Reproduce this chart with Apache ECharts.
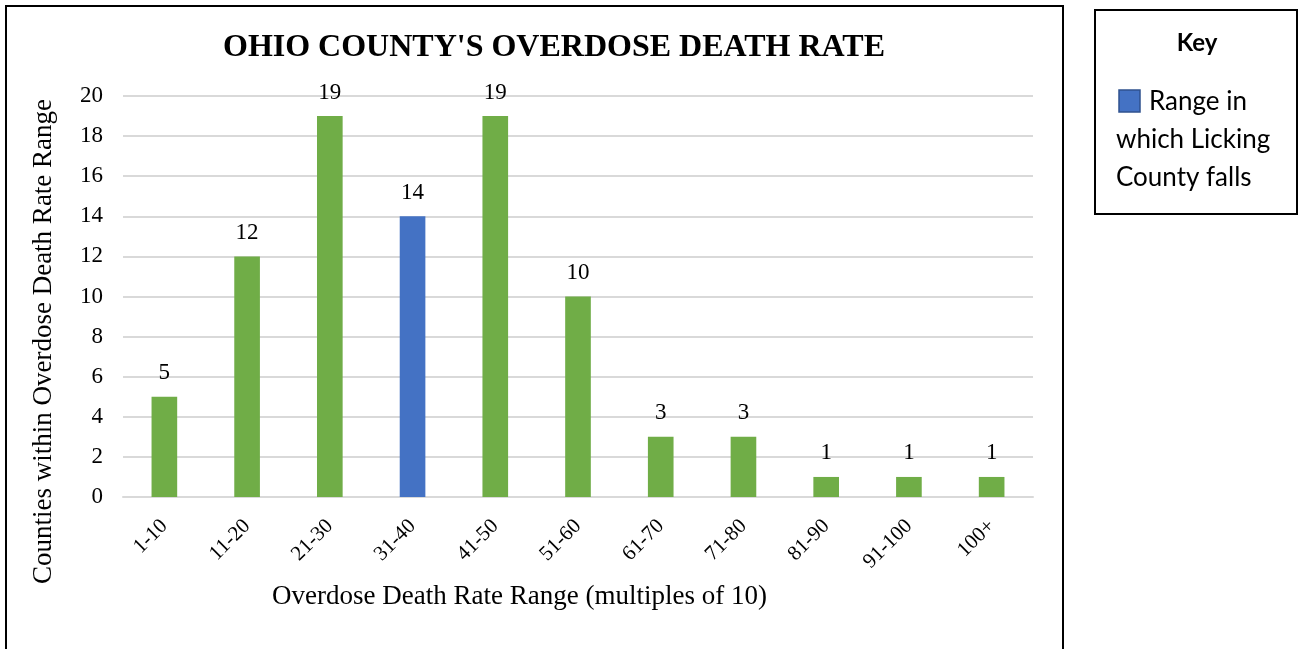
<!DOCTYPE html>
<html>
<head>
<meta charset="utf-8">
<style>
  html, body { margin: 0; padding: 0; background: #fff; }
  #chart { width: 1301px; height: 649px; }
</style>
<script src="https://cdn.jsdelivr.net/npm/echarts@6/dist/echarts.min.js"></script>
</head>
<body>
<div id="chart"></div>
<script>
// Death-rate ranges and how many Ohio counties fall in each
const categories = ['1-10', '11-20', '21-30', '31-40', '41-50', '51-60', '61-70', '71-80', '81-90', '91-100', '100+'];
const countyCounts = [5, 12, 19, 14, 19, 10, 3, 3, 1, 1, 1];
const highlightRange = '31-40'; // range containing Licking County
const yTicks = { min: 0, max: 20, interval: 2 };

const GREEN = '#70AD47';
const BLUE = '#4472C4';
const serif = '"Liberation Serif", "Times New Roman", serif';
const sans = 'Lato, "Open Sans", sans-serif';

const chart = echarts.init(document.getElementById('chart'));

chart.setOption({
  animation: false,
  backgroundColor: '#fff',
  title: {
    text: "OHIO COUNTY'S OVERDOSE DEATH RATE",
    left: 549,
    top: 27,
    textAlign: 'center',
    textStyle: { fontFamily: serif, fontWeight: 'bold', fontSize: 32, color: '#000' }
  },
  grid: { left: 123, right: 268, top: 96, bottom: 152, containLabel: false },
  xAxis: {
    type: 'category',
    data: categories,
    name: 'Overdose Death Rate Range (multiples of 10)',
    nameLocation: 'middle',
    nameGap: 86,
    nameTextStyle: { fontFamily: serif, fontSize: 27, color: '#000', padding: [0, 117, 0, 0] },
    axisLine: { lineStyle: { color: '#d9d9d9', width: 2 } },
    axisTick: { show: false },
    axisLabel: { rotate: 45, margin: 26, fontFamily: serif, fontSize: 21, color: '#000' }
  },
  yAxis: {
    type: 'value',
    min: yTicks.min,
    max: yTicks.max,
    interval: yTicks.interval,
    name: 'Counties within Overdose Death Rate Range',
    nameLocation: 'middle',
    nameGap: 66,
    nameTextStyle: { fontFamily: serif, fontSize: 27, color: '#000', padding: [0, 90, 0, 0] },
    axisLine: { show: false },
    axisTick: { show: false },
    axisLabel: { margin: 20, fontFamily: serif, fontSize: 23, color: '#000' },
    splitLine: { lineStyle: { color: '#d9d9d9', width: 2 } }
  },
  series: [{
    type: 'bar',
    barWidth: '31%',
    data: countyCounts.map((v, i) => ({
      value: v,
      itemStyle: { color: categories[i] === highlightRange ? BLUE : GREEN }
    })),
    label: {
      show: true,
      position: 'top',
      distance: 12,
      fontFamily: serif,
      fontSize: 23,
      color: '#000'
    }
  }],
  graphic: [
    // chart frame
    {
      type: 'rect',
      shape: { x: 6, y: 6, width: 1057, height: 700 },
      style: { fill: 'none', stroke: '#000', lineWidth: 2 },
      silent: true
    },
    // key box
    {
      type: 'rect',
      shape: { x: 1095, y: 10, width: 202, height: 204 },
      style: { fill: '#fff', stroke: '#000', lineWidth: 2 },
      silent: true
    },
    {
      type: 'text',
      x: 1197, y: 43,
      style: { text: 'Key', fontFamily: sans, fontWeight: 'bold', fontSize: 24, fill: '#000', align: 'center', verticalAlign: 'middle' }
    },
    {
      type: 'rect',
      shape: { x: 1119, y: 90, width: 21, height: 22 },
      style: { fill: BLUE, stroke: '#2F528F', lineWidth: 1.5 }
    },
    {
      type: 'text',
      x: 1149, y: 102,
      style: { text: 'Range in', fontFamily: sans, fontSize: 26, fill: '#000', verticalAlign: 'middle' }
    },
    {
      type: 'text',
      x: 1116, y: 140,
      style: { text: 'which Licking', fontFamily: sans, fontSize: 26, fill: '#000', verticalAlign: 'middle' }
    },
    {
      type: 'text',
      x: 1116, y: 178,
      style: { text: 'County falls', fontFamily: sans, fontSize: 26, fill: '#000', verticalAlign: 'middle' }
    }
  ]
});
</script>
</body>
</html>
